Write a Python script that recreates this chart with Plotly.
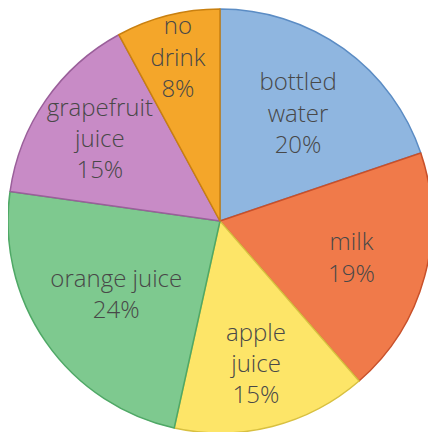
import plotly.graph_objects as go

bebidas = ["bottled water", "milk", "apple juice", "orange juice", "grapefruit juice", "no drink"]
etiquetas = ["bottled<br>water<br>20%", "milk<br>19%", "apple<br>juice<br>15%",
             "orange juice<br>24%", "grapefruit<br>juice<br>15%", "no<br>drink<br>8%"]
porcentajes = [20, 19, 15, 24, 15, 8]

colores = ["#8fb6e0", "#f07a4a", "#fde568", "#7ec98f", "#c88bc6", "#f4a62a"]
bordes = ["#5b8cc4", "#c8502a", "#d8c040", "#4fa866", "#9a5f9a", "#c98010"]

# la pagina tiene 8px de margen en el body, se compensa en el dominio
fig = go.Figure(go.Pie(
    labels=bebidas,
    values=porcentajes,
    text=etiquetas,
    textinfo="text",
    texttemplate="%{text}",
    sort=False,
    direction="clockwise",
    rotation=0,
    marker=dict(colors=colores, line=dict(color=bordes, width=1.5)),
    textposition="inside",
    insidetextorientation="horizontal",
    textfont=dict(family="Open Sans", size=24, color="#484848", weight=300),
    showlegend=False,
    hoverinfo="skip",
    domain=dict(x=[0, 424 / 436], y=[7 / 432, 431 / 432]),
))

fig.update_layout(
    width=436,
    height=432,
    margin=dict(l=0, r=0, t=0, b=0),
    paper_bgcolor="white",
    uniformtext=dict(minsize=24, mode="show"),
)

fig.write_html("out.html")
